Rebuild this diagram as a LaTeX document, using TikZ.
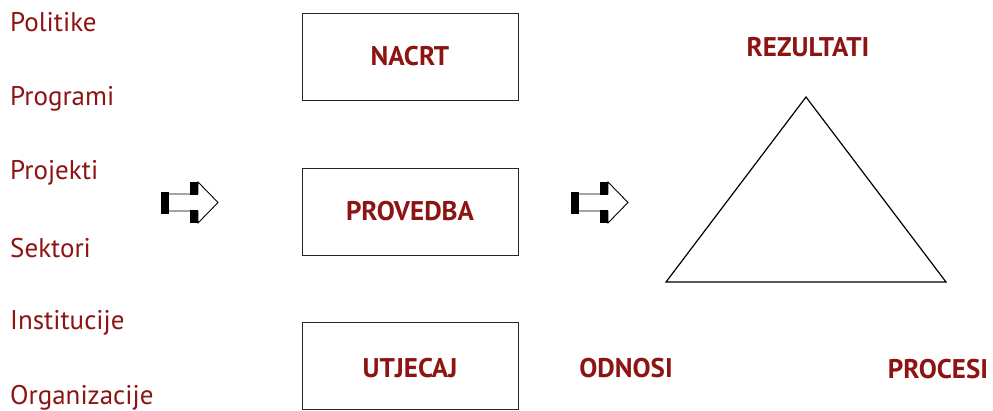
\documentclass[tikz,border=0pt]{standalone}
\usepackage{fontspec}
\setmainfont{PT Sans}
\definecolor{txtred}{RGB}{140,20,18}
\tikzset{
  lbl/.style={text=txtred, font=\fontsize{27}{30}\selectfont, anchor=west, inner sep=0pt},
  ttl/.style={text=txtred, font=\bfseries\fontsize{27}{30}\selectfont, inner sep=0pt},
  boxn/.style={draw=black!85, line width=1pt, minimum width=216pt, minimum height=87pt, inner sep=0pt},
  tri/.style={draw=black, line width=1.2pt},
}
\newcommand{\blockarrow}[2]{%
  \begin{scope}[shift={(#1,#2)}]
    \fill[black] (-8,-11) rectangle (0,11);
    \fill[black] (21,-20.5) rectangle (29,-7.5);
    \fill[black] (21,7.5) rectangle (29,20.5);
    \draw[black, line width=0.9pt] (0,-8.5) -- (29,-8.5) -- (29,-20.5) -- (49,0) -- (29,20.5) -- (29,8.5) -- (0,8.5);
  \end{scope}}
\begin{document}
\begin{tikzpicture}[x=1pt,y=-1pt]
\useasboundingbox (0,0) rectangle (993,410);
\node[lbl] (l1) at (10,22) {Politike};
\node[lbl] (l2) at (10,99) {Programi};
\node[lbl] (l3) at (10,173) {Projekti};
\node[lbl] (l4) at (10,248) {Sektori};
\node[lbl] (l5) at (10,323) {Institucije};
\node[lbl] (l6) at (10,398) {Organizacije};
\blockarrow{169}{202.5}
\blockarrow{579}{202.5}
\node[boxn] (b1) at (410,56.5) {};
\node[ttl] at (b1.center) {NACRT};
\node[boxn] (b2) at (410,211.5) {};
\node[ttl] at (b2.center) {PROVEDBA};
\node[boxn] (b3) at (410,366) {};
\node[ttl] (t3) at (410,368) {UTJECAJ};
\coordinate (ta) at (806,97);
\coordinate (tb) at (666,282);
\coordinate (tc) at (946,282);
\draw[tri] (ta) -- (tb) -- (tc) -- cycle;
\node[ttl] (r) at (808,47) {REZULTATI};
\node[ttl] (o) at (626,368) {ODNOSI};
\node[ttl] (p) at (938,369) {PROCESI};
\end{tikzpicture}
\end{document}
